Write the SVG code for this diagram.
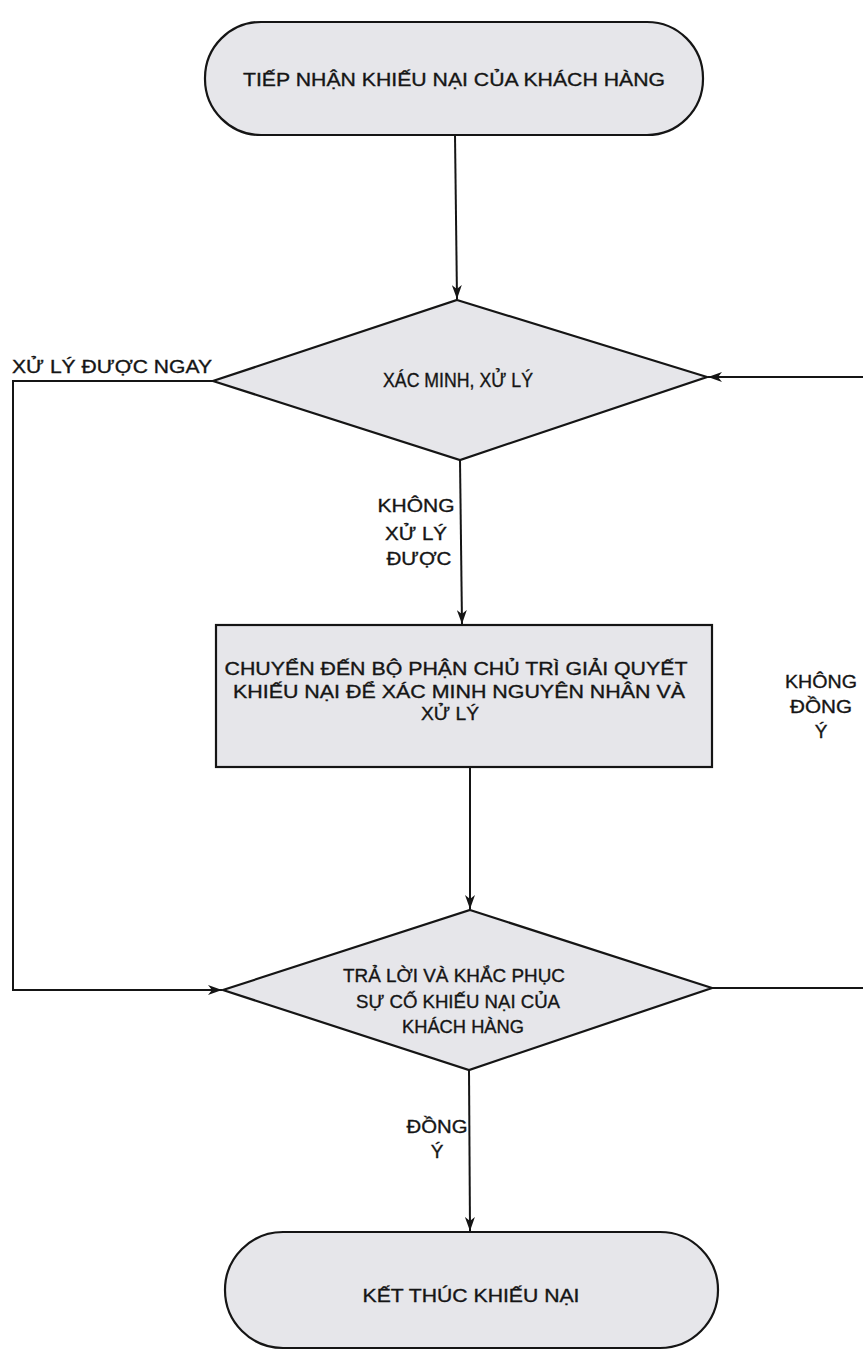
<svg xmlns="http://www.w3.org/2000/svg" width="863" height="1356" viewBox="0 0 863 1356">
<defs>
<marker id="arr" markerWidth="14" markerHeight="10" refX="14" refY="5" orient="auto" markerUnits="userSpaceOnUse">
<path d="M0,0 L14,5 L0,10 L4,5 z" fill="#151515"/>
</marker>
<style>
.shape{fill:#e6e6ea;stroke:#151515;stroke-width:2.2}
.conn{fill:none;stroke:#151515;stroke-width:2}
.t{font-family:"Liberation Sans","DejaVu Sans",sans-serif;font-size:19px;fill:#151515;stroke:#151515;stroke-width:0.35;text-anchor:middle}
.tl{font-family:"Liberation Sans","DejaVu Sans",sans-serif;font-size:19px;fill:#151515;stroke:#151515;stroke-width:0.35;text-anchor:start}
</style>
</defs>
<rect width="863" height="1356" fill="#ffffff"/>

<g id="connectors">
<path class="conn" d="M455,135 L457,299" marker-end="url(#arr)"/>
<path class="conn" d="M460,460 L462,624" marker-end="url(#arr)"/>
<path class="conn" d="M470,767 L470,909" marker-end="url(#arr)"/>
<path class="conn" d="M469,1070 L470,1231" marker-end="url(#arr)"/>
<path class="conn" d="M213,381 L13,381 L13,990 L222,990" marker-end="url(#arr)"/>
<path class="conn" d="M712,988 L875,988 L875,377 L708,377" marker-end="url(#arr)"/>
<text class="tl" x="12" y="373" textLength="200" lengthAdjust="spacingAndGlyphs">XỬ LÝ ĐƯỢC NGAY</text>
<text class="t" x="416" y="512" textLength="77" lengthAdjust="spacingAndGlyphs">KHÔNG</text>
<text class="t" x="416" y="540" textLength="62" lengthAdjust="spacingAndGlyphs">XỬ LÝ</text>
<text class="t" x="419" y="565" textLength="65" lengthAdjust="spacingAndGlyphs">ĐƯỢC</text>
<text class="t" x="821" y="688" textLength="72" lengthAdjust="spacingAndGlyphs">KHÔNG</text>
<text class="t" x="821" y="713" textLength="62" lengthAdjust="spacingAndGlyphs">ĐỒNG</text>
<text class="t" x="821" y="738">Ý</text>
<text class="t" x="437" y="1133" textLength="61" lengthAdjust="spacingAndGlyphs">ĐỒNG</text>
<text class="t" x="437" y="1158">Ý</text>
</g>

<g id="start">
<rect class="shape" x="205" y="22" width="498" height="113" rx="56" ry="56"/>
<text class="t" x="454" y="86" textLength="422" lengthAdjust="spacingAndGlyphs">TIẾP NHẬN KHIẾU NẠI CỦA KHÁCH HÀNG</text>
</g>

<g id="verify">
<polygon class="shape" points="457,300 707,377 460,460 213,381"/>
<text class="t" x="458" y="387" style="font-size:20px" textLength="150" lengthAdjust="spacingAndGlyphs">XÁC MINH, XỬ LÝ</text>
</g>

<g id="transfer">
<rect class="shape" x="216" y="625" width="496" height="142"/>
<text class="t" x="456" y="675" textLength="463" lengthAdjust="spacingAndGlyphs">CHUYỂN ĐẾN BỘ PHẬN CHỦ TRÌ GIẢI QUYẾT</text>
<text class="t" x="459" y="698" textLength="452" lengthAdjust="spacingAndGlyphs">KHIẾU NẠI ĐỂ XÁC MINH NGUYÊN NHÂN VÀ</text>
<text class="t" x="450" y="720" textLength="58" lengthAdjust="spacingAndGlyphs">XỬ LÝ</text>
</g>

<g id="respond">
<polygon class="shape" points="470,910 712,988 469,1070 223,990"/>
<text class="t" x="454" y="982" textLength="222" lengthAdjust="spacingAndGlyphs">TRẢ LỜI VÀ KHẮC PHỤC</text>
<text class="t" x="458" y="1008" textLength="204" lengthAdjust="spacingAndGlyphs">SỰ CỐ KHIẾU NẠI CỦA</text>
<text class="t" x="463" y="1033" textLength="122" lengthAdjust="spacingAndGlyphs">KHÁCH HÀNG</text>
</g>

<g id="end">
<rect class="shape" x="225" y="1232" width="493" height="116" rx="58" ry="58"/>
<text class="t" x="471" y="1302" textLength="217" lengthAdjust="spacingAndGlyphs">KẾT THÚC KHIẾU NẠI</text>
</g>
</svg>
